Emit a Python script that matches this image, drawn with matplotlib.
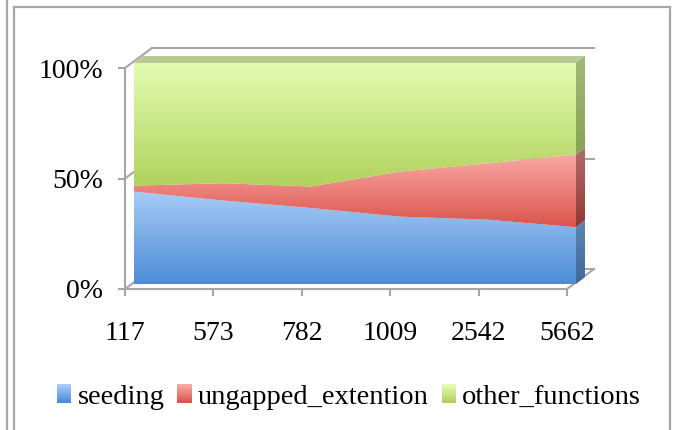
import numpy as np
import matplotlib.pyplot as plt
from matplotlib.patches import Polygon, Rectangle
from matplotlib.lines import Line2D
from matplotlib.colors import LinearSegmentedColormap, to_rgb

plt.rcParams['font.family'] = ['Liberation Serif', 'DejaVu Serif']

# query sizes and time share of each step
sizes = ['117', '573', '782', '1009', '2542', '5662']
seeding = [41.8, 37.8, 34.4, 30.5, 29.1, 25.7]
ungapped = [2.7, 7.8, 9.7, 20.3, 25.5, 32.9]
other = [55.5, 54.4, 55.9, 49.2, 45.4, 41.4]
names = ['seeding', 'ungapped_extention', 'other_functions']

# (bottom colour, top colour) of each fill
face_cols = [('#4b8dd6', '#a8cbf7'), ('#d9554c', '#fba8a5'), ('#b0d25c', '#e4fcb2')]
side_cols = [('#3b679b', '#5f87b3'), ('#943832', '#b26d6b'), ('#86a454', '#a2b878')]
top_col = '#b8cb93'
gray = '#a6a6a6'

fig = plt.figure(figsize=(6.77, 4.30), dpi=100)
ax = fig.add_axes([125 / 677, 1 - 289 / 430, 442 / 677, 221 / 430])

# pseudo-3d depth offsets, in data units
px_x = 5 / 442
px_y = 100 / 221
face = (9 * px_x, 5 * px_y)
back = (18 * px_x, 12 * px_y)
wall = (27 * px_x, 20 * px_y)

x = np.arange(len(sizes))
data = np.array([seeding, ungapped, other], dtype=float)
pct = data / data.sum(axis=0) * 100
cum = np.vstack([np.zeros(len(x)), np.cumsum(pct, axis=0)])


def gradient_fill(patch, bottom_col, top_col, extent, z):
    cmap = LinearSegmentedColormap.from_list('g', [bottom_col, top_col])
    grad = np.linspace(0, 1, 256).reshape(-1, 1)
    im = ax.imshow(grad, extent=extent, origin='lower', aspect='auto',
                   cmap=cmap, zorder=z, interpolation='bilinear')
    im.set_clip_box(fig.bbox)
    im.set_clip_path(patch)


# back wall and side wall lines
for v in (0, 50, 100):
    ax.plot([wall[0], 5 + wall[0]], [v + wall[1]] * 2, color=gray, lw=1.5,
            zorder=1, clip_on=False)
    ax.plot([0, wall[0]], [v, v + wall[1]], color=gray, lw=1.5,
            zorder=1, clip_on=False)
ax.plot([5, 5 + wall[0]], [0, wall[1]], color=gray, lw=1.5, zorder=1, clip_on=False)

# top strip of the stack
top = Polygon([(face[0], 100 + face[1]), (5 + face[0], 100 + face[1]),
               (5 + back[0], 100 + back[1]), (back[0], 100 + back[1])],
              closed=True, facecolor=top_col, edgecolor='none', zorder=2, clip_on=False)
ax.add_patch(top)

# right-hand side strips
for k in range(3):
    lo, hi = cum[k, -1], cum[k + 1, -1]
    pts = [(5 + face[0], lo + face[1]), (5 + back[0], lo + back[1]),
           (5 + back[0], hi + back[1]), (5 + face[0], hi + face[1])]
    side = Polygon(pts, closed=True, facecolor='none', edgecolor='none', clip_on=False)
    ax.add_patch(side)
    gradient_fill(side, side_cols[k][0], side_cols[k][1],
                  (5 + face[0], 5 + back[0], lo + face[1], hi + back[1]), 2)

# front faces of the stacked areas
xs = x + face[0]
for k in range(3):
    lo = cum[k] + face[1]
    hi = cum[k + 1] + face[1]
    pts = list(zip(xs, hi)) + list(zip(xs[::-1], lo[::-1]))
    poly = Polygon(pts, closed=True, facecolor='none', edgecolor='none', clip_on=False)
    ax.add_patch(poly)
    gradient_fill(poly, face_cols[k][0], face_cols[k][1],
                  (xs[0], xs[-1], lo.min(), hi.max()), 3)

ax.set_xlim(0, 5)
ax.set_ylim(0, 100)
ax.set_facecolor('none')
for s in ('top', 'right'):
    ax.spines[s].set_visible(False)
for s in ('left', 'bottom'):
    ax.spines[s].set_color(gray)
    ax.spines[s].set_linewidth(1.5)
    ax.spines[s].set_zorder(4)

ax.set_yticks([0, 50, 100])
ax.set_yticklabels(['0%', '50%', '100%'])
ax.set_xticks(x)
ax.set_xticklabels(sizes)
ax.tick_params(direction='out', length=5, width=1.5, color=gray, labelsize=20)
ax.tick_params(axis='x', pad=18)
ax.tick_params(axis='y', pad=11)


class GradientHandler:
    def __init__(self, bottom_col, top_col):
        self.b = np.array(to_rgb(bottom_col))
        self.t = np.array(to_rgb(top_col))

    def legend_artist(self, legend, orig_handle, fontsize, handlebox):
        x0, y0 = -handlebox.xdescent, -handlebox.ydescent
        w, h = handlebox.width, handlebox.height
        n = 16
        for i in range(n):
            c = self.b + (self.t - self.b) * i / (n - 1)
            r = Rectangle((x0, y0 + h * i / n), w, h / n * 1.05, facecolor=c,
                          edgecolor='none', transform=handlebox.get_transform())
            handlebox.add_artist(r)
        return r


handles = [Rectangle((0, 0), 1, 1) for _ in names]
hmap = {h: GradientHandler(*c) for h, c in zip(handles, face_cols)}
fig.legend(handles, names, loc='center', bbox_to_anchor=(349 / 677, 1 - 397 / 430),
           ncol=3, frameon=False, fontsize=20.5, handlelength=0.5, handleheight=0.6,
           handletextpad=0.22, columnspacing=0.45, handler_map=hmap)

# chart border
W, H = 677, 430
for xa, ya in [([7, 7], [0, H]), ([14, 14], [0, H - 7]), ([14, 670], [H - 7, H - 7]),
               ([670, 670], [0, H - 7])]:
    fig.add_artist(Line2D(np.array(xa) / W, np.array(ya) / H, color=gray, lw=1.6))

fig.savefig('out.png', dpi=100)
